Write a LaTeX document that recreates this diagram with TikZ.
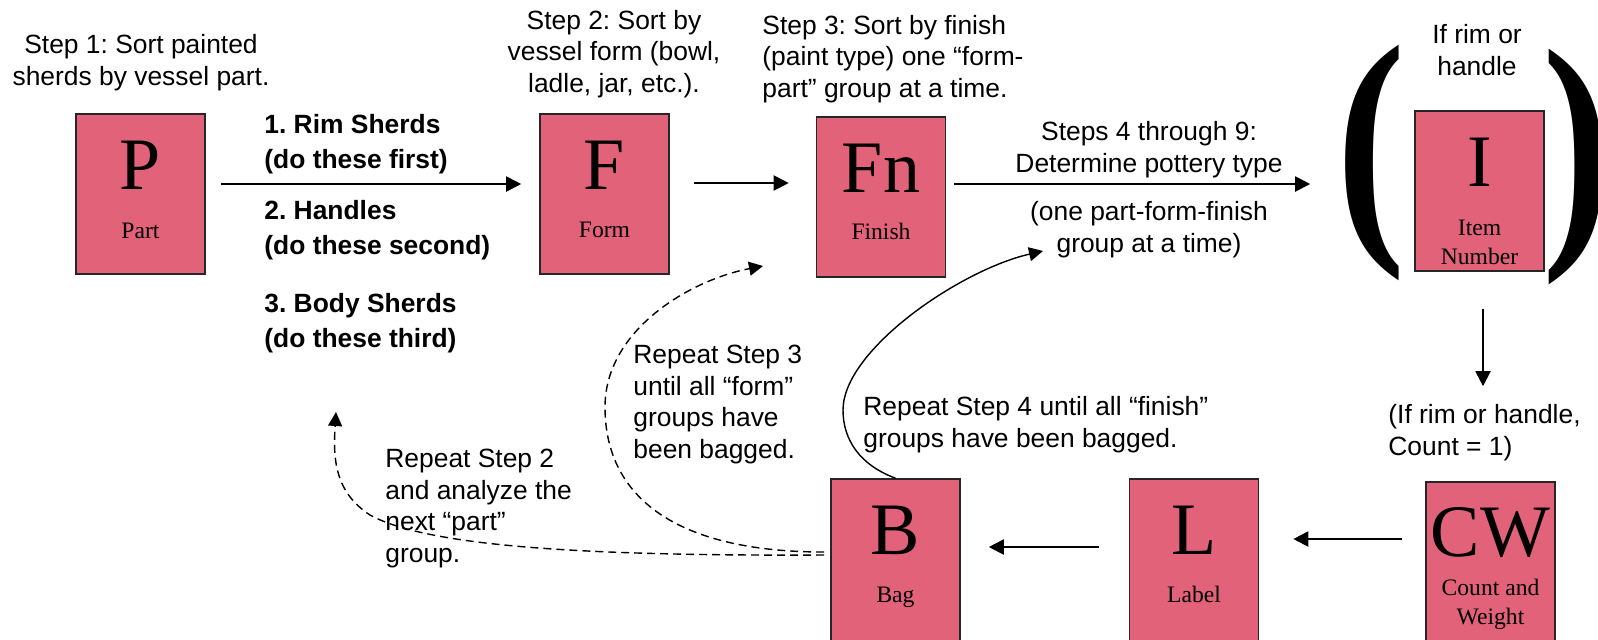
\documentclass[tikz,border=0pt]{standalone}
\usepackage{fontspec}
\setmainfont{Liberation Serif}
\setsansfont{Liberation Sans}
\frenchspacing
\usetikzlibrary{arrows.meta,positioning}
\definecolor{potpink}{RGB}{226,98,122}
\tikzset{
  potbox/.style={draw=black!85,line width=0.8pt,fill=potpink,minimum width=64.5pt,minimum height=80pt,inner sep=0pt},
  tallbox/.style={potbox,minimum height=90pt},
  boxletter/.style={anchor=base,inner sep=0pt,font=\fontsize{37}{37}\selectfont},
  boxname/.style={anchor=base,inner sep=0pt,align=center,font=\fontsize{11.8}{14.5}\selectfont},
  steptxt/.style={anchor=base,inner sep=0pt,align=center,font=\sffamily\fontsize{13.2}{15.75}\selectfont},
  steptxtl/.style={steptxt,align=left,anchor=base west},
  parttxt/.style={anchor=base west,inner sep=0pt,align=left,font=\sffamily\bfseries\fontsize{13.2}{17.5}\selectfont},
  bigparen/.style={inner sep=0pt,font=\bfseries\fontsize{130}{132}\selectfont},
  flow/.style={-{Triangle[length=7.5pt,width=7.5pt]},line width=1pt},
  loopback/.style={-{Triangle[length=7pt,width=7pt]},line width=0.7pt},
  loopdash/.style={loopback,dash pattern=on 4pt off 2.5pt}
}
\begin{document}
\begin{tikzpicture}[x=0.5pt,y=-0.5pt]
  \useasboundingbox (0,0) rectangle (1598,639);
  % top row
  \node[potbox] (P) at (140.5,194) {};
  \node[boxletter] (Pl) at ([yshift=-38pt]P.north) {P};
  \node[boxname] (Pn) at ([yshift=-62.5pt]P.north) {Part};
  \node[potbox] (F) at (604.5,194) {};
  \node[boxletter] (Fl) at ([yshift=-38pt]F.north) {F};
  \node[boxname] (Fnm) at ([yshift=-62pt]F.north) {Form};
  \node[potbox] (Fn) at (881,197) {};
  \node[boxletter] (Fnl) at ([yshift=-38pt]Fn.north) {Fn};
  \node[boxname] (Fnn) at ([yshift=-61.5pt]Fn.north) {Finish};
  \node[potbox] (I) at (1479.5,191) {};
  \node[boxletter] (Il) at ([yshift=-38pt]I.north) {I};
  \node[boxname] (In) at ([yshift=-77pt]I.north) {Item\\Number};
  \node[bigparen] (lpar) at (1371,163) {\scalebox{0.8}[1]{(}};
  \node[bigparen] (rpar) at (1577,166.5) {\scalebox{0.8}[1]{)}};
  % bottom row
  \node[tallbox] (B) at (895.5,569) {};
  \node[boxletter] (Bl) at ([yshift=-38pt]B.north) {B};
  \node[boxname] (Bn) at ([yshift=-62pt]B.north) {Bag};
  \node[tallbox] (L) at (1194,569) {};
  \node[boxletter] (Ll) at ([yshift=-38pt]L.north) {L};
  \node[boxname] (Ln) at ([yshift=-62pt]L.north) {Label};
  \node[tallbox] (CW) at (1490.5,572) {};
  \node[boxletter] (CWl) at ([yshift=-37.5pt]CW.north) {CW};
  \node[boxname] (CWn) at ([yshift=-71.5pt]CW.north) {Count and\\Weight};
  % texts (base = last line)
  \node[steptxt] (s1) at (141,85) {Step 1: Sort painted\\sherds by vessel part.};
  \node[steptxt] (s2) at (614,92) {Step 2: Sort by\\vessel form (bowl,\\ladle, jar, etc.).};
  \node[steptxtl] (s3) at (762,97) {Step 3: Sort by finish\\(paint type) one “form-\\part” group at a time.};
  \node[steptxt] (s4) at (1149,172) {Steps 4 through 9:\\Determine pottery type};
  \node[steptxt] (s4b) at (1149,252) {(one part-form-finish\\group at a time)};
  \node[steptxt] (ifrim) at (1477,75) {If rim or\\handle};
  \node[steptxtl] (cnt) at (1388,455) {(If rim or handle,\\Count = 1)};
  \node[steptxtl] (rep4) at (863,447) {Repeat Step 4 until all “finish”\\groups have been bagged.};
  \node[steptxtl] (rep3) at (633,458) {Repeat Step 3\\until all “form”\\groups have\\been bagged.};
  \node[steptxtl] (rep2) at (385,562) {Repeat Step 2\\and analyze the\\next “part”\\group.};
  \node[parttxt] (rim) at (264,168) {1. Rim Sherds\\(do these first)};
  \node[parttxt] (hnd) at (264,254) {2. Handles\\(do these second)};
  \node[parttxt] (bod) at (264,347) {3. Body Sherds\\(do these third)};
  % flow arrows
  \draw[flow] ([xshift=7.5pt,yshift=5pt]P.east) -- ([xshift=-9pt,yshift=5pt]F.west);
  \draw[flow] ([xshift=12pt,yshift=5.5pt]F.east) -- ([xshift=-13.5pt,yshift=7pt]Fn.west);
  \draw[flow] ([xshift=4pt,yshift=6.5pt]Fn.east) -- ([xshift=-52pt,yshift=3.5pt]I.west);
  \draw[flow] ([xshift=1.75pt,yshift=-18.5pt]I.south) -- ([xshift=-3.75pt,yshift=47.5pt]CW.north);
  \draw[flow] ([xshift=-11.5pt,yshift=16.5pt]CW.west) -- ([xshift=17pt,yshift=15pt]L.east);
  \draw[flow] ([xshift=-15pt,yshift=11pt]L.west) -- ([xshift=14pt,yshift=11pt]B.east);
  % loops back
  \coordinate (finend) at (1043,251);
  \coordinate (formend) at (763,266);
  \coordinate (partend) at (336,412);
  \draw[loopback] (B.north) .. controls (860,465) and (843,440) .. (843,410)
    .. controls (843,350) and (960,270) .. (finend);
  \draw[loopdash] ([xshift=-3pt,yshift=8.5pt]B.west) .. controls (680,552) and (605,500) .. (605,407)
    .. controls (605,330) and (690,280) .. (formend);
  \draw[loopdash] ([xshift=-3pt,yshift=7pt]B.west) .. controls (600,556) and (430,548) .. (370,515)
    .. controls (335,492) and (333,460) .. (partend);
\end{tikzpicture}
\end{document}
